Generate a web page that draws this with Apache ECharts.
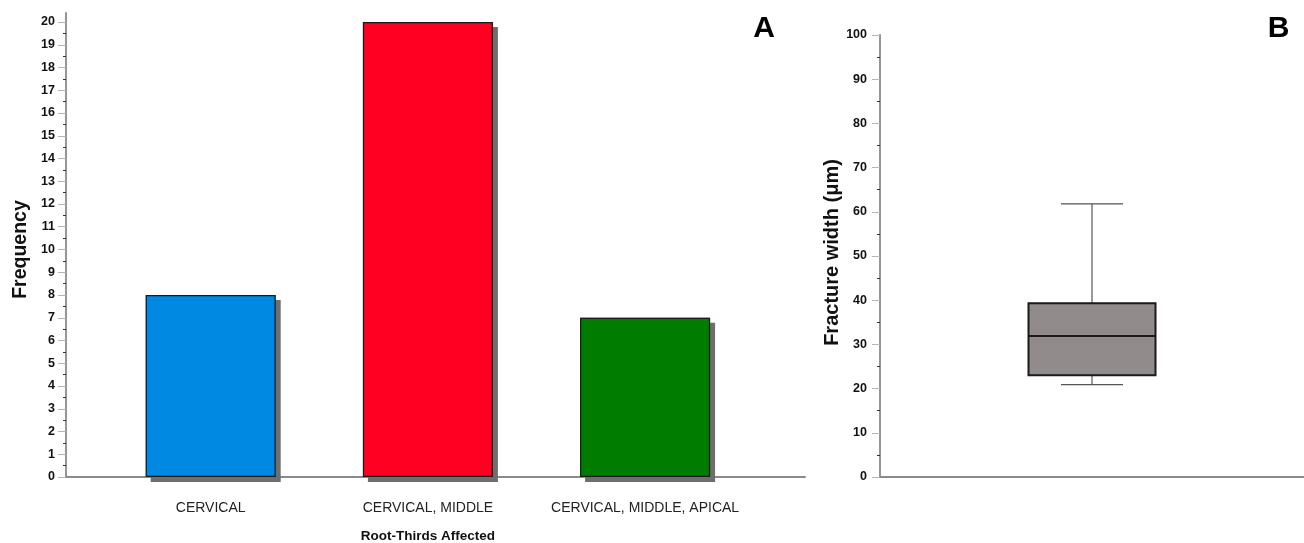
<!DOCTYPE html>
<html>
<head>
<meta charset="utf-8">
<script src="https://cdn.jsdelivr.net/npm/echarts@6/dist/echarts.min.js"></script>
<style>
html,body{margin:0;padding:0;background:#fff;}
#c{width:1304px;height:543px;}
</style>
</head>
<body>
<div id="c"></div>
<script>
// ---- data ----
const categories = ['CERVICAL', 'CERVICAL, MIDDLE', 'CERVICAL, MIDDLE, APICAL'];
const frequencies = [8, 20, 7];
const boxLabel = [''];
// [min, Q1, median, Q3, max] of fracture width (µm)
const boxStats = [20.9, 23.0, 31.9, 39.3, 61.8];

// ---- styles ----
const barColors = ['#0089e3', '#ff0022', '#007d00'];
const FONT = '"Liberation Sans", Arial, sans-serif';
const AXIS_GREY = '#8a8a8a';
const AXIS_W = 1.8;

const chart = echarts.init(document.getElementById('c'), null, {renderer: 'canvas'});

const tickLabel = {fontFamily: FONT, fontWeight: 'bold', fontSize: 12.5, color: '#111'};

const option = {
  animation: false,
  backgroundColor: '#fff',
  grid: [
    // panel A frame (axis lines only)
    {left: 66, top: 13, width: 739, bottom: 66, containLabel: false, outerBoundsMode: 'none'},
    // panel A data
    {left: 102.1, top: 22, width: 651.6, bottom: 66, containLabel: false, outerBoundsMode: 'none'},
    // panel B
    {left: 880, top: 35, right: 0, bottom: 66, containLabel: false, outerBoundsMode: 'none'}
  ],
  xAxis: [
    {gridIndex: 0, type: 'value', min: 0, max: 1, axisLine: {show: true, onZero: false, lineStyle: {color: AXIS_GREY, width: AXIS_W}},
      axisTick: {show: false}, axisLabel: {show: false}, splitLine: {show: false}},
    {gridIndex: 1, type: 'category', data: categories, axisLine: {show: false}, axisTick: {show: false},
      axisLabel: {margin: 24, fontFamily: FONT, fontSize: 14, color: '#222', interval: 0},
      name: 'Root-Thirds Affected', nameLocation: 'middle', nameGap: 52,
      nameTextStyle: {fontFamily: FONT, fontWeight: 'bold', fontSize: 13.5, color: '#111'}},
    {gridIndex: 2, type: 'category', data: boxLabel, axisLine: {show: true, lineStyle: {color: AXIS_GREY, width: AXIS_W}},
      axisTick: {show: false}, axisLabel: {show: false}}
  ],
  yAxis: [
    {gridIndex: 0, type: 'value', min: 0, max: 1, axisLine: {show: true, onZero: false, lineStyle: {color: AXIS_GREY, width: AXIS_W}},
      axisTick: {show: false}, axisLabel: {show: false}, splitLine: {show: false}},
    {gridIndex: 1, type: 'value', min: 0, max: 20, interval: 1, offset: 36.1,
      axisLine: {show: false},
      axisTick: {show: true, length: 8, lineStyle: {color: '#b5b5b5', width: 1}},
      minorTick: {show: true, splitNumber: 2, length: 3, lineStyle: {color: '#333', width: 1}},
      axisLabel: Object.assign({margin: 11}, tickLabel),
      splitLine: {show: false},
      name: 'Frequency', nameLocation: 'middle', nameGap: 35,
      nameTextStyle: {fontFamily: FONT, fontWeight: 'bold', fontSize: 19.5, color: '#111'}},
    {gridIndex: 2, type: 'value', min: 0, max: 100, interval: 10,
      axisLine: {show: true, lineStyle: {color: AXIS_GREY, width: AXIS_W}},
      axisTick: {show: true, length: 8, lineStyle: {color: '#b5b5b5', width: 1}},
      minorTick: {show: true, splitNumber: 2, length: 3, lineStyle: {color: '#333', width: 1}},
      axisLabel: Object.assign({margin: 13}, tickLabel),
      splitLine: {show: false},
      name: 'Fracture width (μm)', nameLocation: 'middle', nameGap: 38,
      nameTextStyle: {fontFamily: FONT, fontWeight: 'bold', fontSize: 20, color: '#111', padding: [0, 0, 0, 7]}}
  ],
  series: [
    {
      // filled bars with drop shadow
      type: 'bar', xAxisIndex: 1, yAxisIndex: 1, barWidth: 130,
      data: frequencies.map((v, i) => ({
        value: v,
        itemStyle: {
          color: barColors[i], borderWidth: 0,
          shadowColor: '#6e6e6e', shadowOffsetX: 5, shadowOffsetY: 5, shadowBlur: 0
        }
      }))
    },
    {
      // outline overlay (no shadow)
      type: 'bar', xAxisIndex: 1, yAxisIndex: 1, barWidth: 130, barGap: '-100%',
      data: frequencies,
      itemStyle: {color: 'rgba(0,0,0,0)', borderColor: '#1a1a1a', borderWidth: 1.2}
    },
    {
      type: 'custom', xAxisIndex: 2, yAxisIndex: 2,
      data: [[0].concat(boxStats)],
      renderItem: function (params, api) {
        const x = api.value(0);
        const pMin = api.coord([x, api.value(1)]);
        const pQ1 = api.coord([x, api.value(2)]);
        const pMed = api.coord([x, api.value(3)]);
        const pQ3 = api.coord([x, api.value(4)]);
        const pMax = api.coord([x, api.value(5)]);
        const cx = pMed[0];
        const halfBox = 63.5, halfCap = 31;
        const wStyle = {stroke: '#555', lineWidth: 1.2};
        return {
          type: 'group',
          children: [
            {type: 'line', shape: {x1: cx, y1: pQ3[1], x2: cx, y2: pMax[1]}, style: wStyle},
            {type: 'line', shape: {x1: cx, y1: pQ1[1], x2: cx, y2: pMin[1]}, style: wStyle},
            {type: 'line', shape: {x1: cx - halfCap, y1: pMax[1], x2: cx + halfCap, y2: pMax[1]}, style: wStyle},
            {type: 'line', shape: {x1: cx - halfCap, y1: pMin[1], x2: cx + halfCap, y2: pMin[1]}, style: wStyle},
            {type: 'rect', shape: {x: cx - halfBox, y: pQ3[1], width: halfBox * 2, height: pQ1[1] - pQ3[1]},
              style: {fill: '#918b8b', stroke: '#1a1a1a', lineWidth: 2}},
            {type: 'line', shape: {x1: cx - halfBox, y1: pMed[1], x2: cx + halfBox, y2: pMed[1]},
              style: {stroke: '#1a1a1a', lineWidth: 2}}
          ]
        };
      }
    }
  ],
  graphic: [
    {type: 'text', x: 764, y: 29, style: {text: 'A', fontFamily: FONT, fontWeight: 'bold', fontSize: 30, fill: '#000', align: 'center', verticalAlign: 'middle'}},
    {type: 'text', x: 1278.5, y: 29, style: {text: 'B', fontFamily: FONT, fontWeight: 'bold', fontSize: 30, fill: '#000', align: 'center', verticalAlign: 'middle'}}
  ]
};

chart.setOption(option);
</script>
</body>
</html>
